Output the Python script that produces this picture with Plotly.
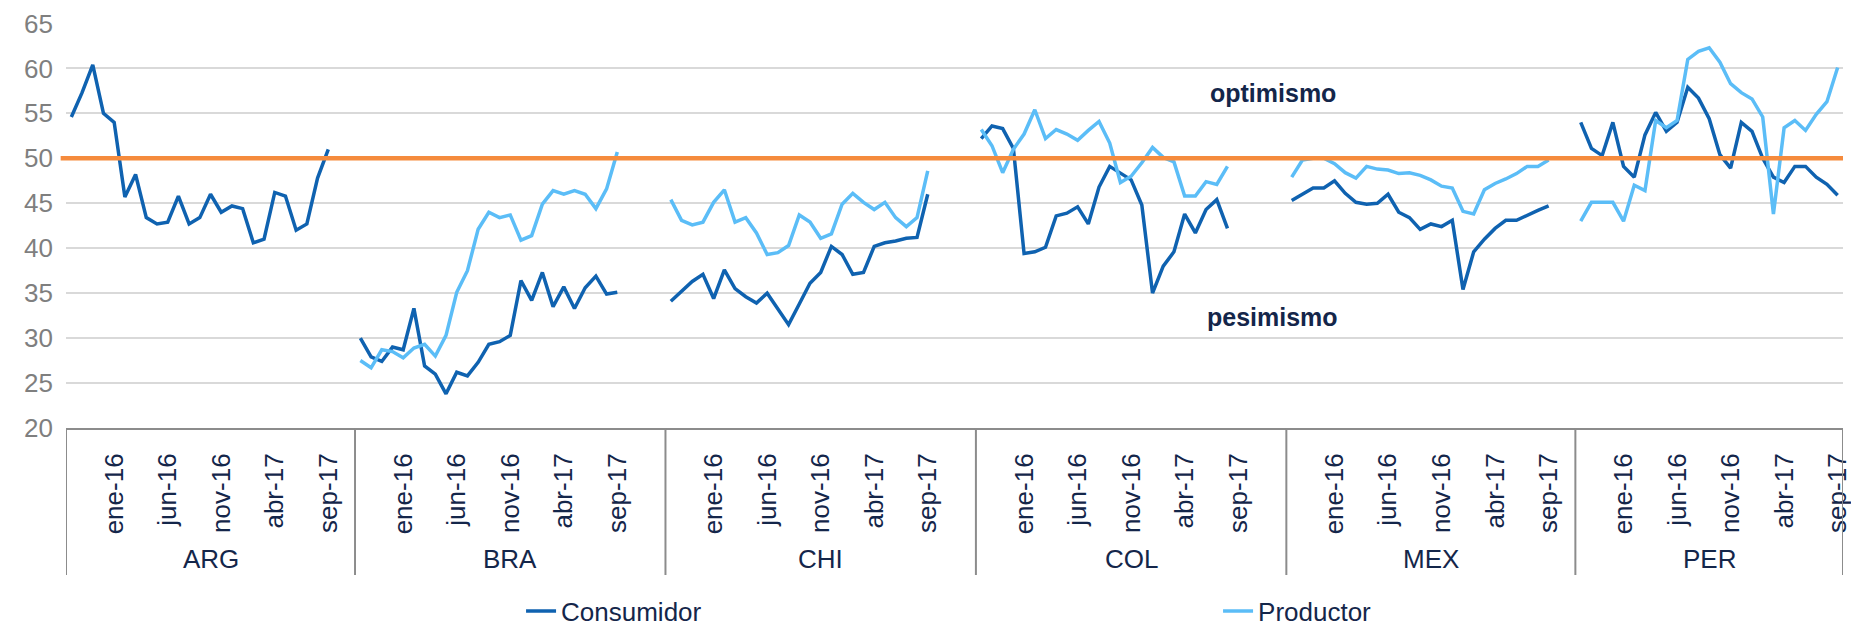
import plotly.graph_objects as go

# --- data ---
COUNTRIES = ["ARG", "BRA", "CHI", "COL", "MEX", "PER"]
# rows per country in the source table (months from sep-15, some left blank)
ROWS_PER_COUNTRY = [27, 29, 29, 29, 27, 25]
MONTHS = ["sep-15", "oct-15", "nov-15", "dic-15", "ene-16", "feb-16", "mar-16", "abr-16",
          "may-16", "jun-16", "jul-16", "ago-16", "sep-16", "oct-16", "nov-16", "dic-16",
          "ene-17", "feb-17", "mar-17", "abr-17", "may-17", "jun-17", "jul-17", "ago-17",
          "sep-17", "oct-17", "nov-17", "dic-17", "ene-18"]
LABEL_MONTHS = ["ene-16", "jun-16", "nov-16", "abr-17", "sep-17"]
THRESHOLD = 50

CONS_ARG = [54.6, 57.3, 60.4, 55.0, 54.0, 45.7, 48.2, 43.4, 42.7, 42.9, 45.8, 42.7, 43.4,
            46.0, 44.0, 44.7, 44.4, 40.6, 41.0, 46.2, 45.8, 42.0, 42.7, 47.8, 51.0]
CONS_BRA = [30.0, 27.9, 27.4, 29.0, 28.7, 33.3, 26.9, 26.0, 23.8, 26.2, 25.8, 27.3, 29.3,
            29.6, 30.3, 36.4, 34.2, 37.3, 33.5, 35.7, 33.3, 35.6, 36.9, 34.9, 35.1]
CONS_CHI = [34.1, 35.2, 36.3, 37.1, 34.4, 37.6, 35.5, 34.6, 33.9, 35.0, 33.3, 31.5, 33.8,
            36.1, 37.3, 40.2, 39.3, 37.1, 37.3, 40.2, 40.6, 40.8, 41.1, 41.2, 46.0]
CONS_COL = [52.2, 53.6, 53.3, 51.1, 39.4, 39.6, 40.1, 43.6, 43.9, 44.6, 42.7, 46.8, 49.1,
            48.4, 47.6, 44.8, 35.0, 38.0, 39.6, 43.8, 41.7, 44.3, 45.4, 42.2]
CONS_MEX = [45.3, 46.0, 46.7, 46.7, 47.5, 46.1, 45.1, 44.9, 45.0, 46.0, 44.0, 43.4, 42.1,
            42.7, 42.4, 43.1, 35.4, 39.6, 41.0, 42.2, 43.1, 43.1, 43.7, 44.2, 44.7]
CONS_PER = [54.0, 51.1, 50.3, 54.0, 49.1, 47.9, 52.6, 55.1, 53.0, 54.0, 57.9, 56.7, 54.4,
            50.4, 48.9, 54.0, 53.0, 50.0, 47.9, 47.3, 49.1, 49.1, 47.9, 47.1, 45.9]

PROD_ARG = []
PROD_BRA = [27.5, 26.7, 28.7, 28.5, 27.8, 28.9, 29.3, 28.0, 30.3, 35.1, 37.5, 42.1, 44.0,
            43.4, 43.7, 40.9, 41.4, 44.9, 46.4, 46.0, 46.4, 46.0, 44.4, 46.6, 50.7]
PROD_CHI = [45.4, 43.1, 42.6, 42.9, 45.1, 46.5, 42.9, 43.4, 41.7, 39.3, 39.5, 40.3, 43.7,
            42.9, 41.1, 41.6, 44.9, 46.1, 45.1, 44.3, 45.1, 43.4, 42.4, 43.4, 48.6]
PROD_COL = [53.2, 51.4, 48.4, 51.0, 52.7, 55.4, 52.2, 53.2, 52.7, 52.0, 53.1, 54.1, 51.7,
            47.3, 48.0, 49.5, 51.2, 50.1, 49.6, 45.8, 45.8, 47.4, 47.1, 49.1]
PROD_MEX = [47.9, 49.8, 50.0, 50.0, 49.4, 48.4, 47.8, 49.1, 48.8, 48.7, 48.3, 48.4, 48.1,
            47.6, 46.9, 46.7, 44.1, 43.8, 46.5, 47.2, 47.7, 48.3, 49.1, 49.1, 49.8]
PROD_PER = [43.0, 45.1, 45.1, 45.1, 43.0, 47.0, 46.4, 54.2, 53.4, 54.2, 61.0, 61.9, 62.3,
            60.7, 58.3, 57.3, 56.6, 54.6, 43.8, 53.4, 54.2, 53.1, 54.9, 56.3, 60.1]

CONSUMIDOR = [CONS_ARG, CONS_BRA, CONS_CHI, CONS_COL, CONS_MEX, CONS_PER]
PRODUCTOR = [PROD_ARG, PROD_BRA, PROD_CHI, PROD_COL, PROD_MEX, PROD_PER]

NAVY = "#14264a"
GREY_TXT = "#7f7f7f"
FONT = "Liberation Sans, Arial, sans-serif"

# build one long category axis (country + month), blanks as gaps
cats, cons_y, prod_y = [], [], []
for country, n, cv, pv in zip(COUNTRIES, ROWS_PER_COUNTRY, CONSUMIDOR, PRODUCTOR):
    for i in range(n):
        cats.append(f"{country} {MONTHS[i]}")
        cons_y.append(cv[i] if i < len(cv) else None)
        prod_y.append(pv[i] if i < len(pv) else None)

tickvals = [f"{c} {m}" for c in COUNTRIES for m in LABEL_MONTHS]
ticktext = LABEL_MONTHS * len(COUNTRIES)

fig = go.Figure()
fig.add_trace(go.Scatter(x=cats, y=cons_y, mode="lines", name="Consumidor",
                         line=dict(color="#0f62b0", width=3.5), connectgaps=False))
fig.add_trace(go.Scatter(x=cats, y=prod_y, mode="lines", name="Productor",
                         line=dict(color="#5bbdf7", width=3.5), connectgaps=False))

shapes = [dict(type="line", xref="paper", yref="y", x0=-0.003, x1=1, y0=THRESHOLD, y1=THRESHOLD,
               line=dict(color="#f58b3d", width=4.5), layer="above")]
annotations = []
start = 0
bounds = [-0.5]
for country, n in zip(COUNTRIES, ROWS_PER_COUNTRY):
    annotations.append(dict(x=start + (n - 1) / 2, y=0, xref="x", yref="paper",
                            xanchor="center", yanchor="middle",
                            text=country, showarrow=False, yshift=-131,
                            font=dict(size=26, color=NAVY, family=FONT)))
    start += n
    bounds.append(start - 0.5)
for b in bounds:
    shapes.append(dict(type="line", xref="x", yref="paper", x0=b, x1=b, y0=0, y1=-0.363,
                       line=dict(color="#8c8c8c", width=2)))

for label, yv in [("optimismo", 57.3), ("pesimismo", 32.4)]:
    annotations.append(dict(x=0.679, y=yv, xref="paper", yref="y", text=f"<b>{label}</b>",
                            xanchor="center", yanchor="middle", showarrow=False,
                            font=dict(size=25, color=NAVY, family=FONT)))

fig.update_layout(
    template="none",
    width=1851, height=630,
    margin=dict(l=66, r=8, t=23, b=202),
    paper_bgcolor="white", plot_bgcolor="white",
    font=dict(family=FONT, color=NAVY),
    shapes=shapes,
    annotations=annotations,
    showlegend=True,
    legend=dict(orientation="h", xref="container", yref="container",
                x=0.2815, xanchor="left", y=0.03, yanchor="middle",
                entrywidth=652, font=dict(size=26, color=NAVY, family=FONT),
                bgcolor="rgba(0,0,0,0)"),
    xaxis=dict(type="category", categoryorder="array", categoryarray=cats,
               range=[-0.5, len(cats) - 0.5], tickvals=tickvals, ticktext=ticktext,
               tickangle=-90, tickfont=dict(size=26, color=NAVY, family=FONT),
               showgrid=False, showline=True, linecolor="#8c8c8c", linewidth=2,
               ticks="", ticklabelstandoff=13, automargin=False, zeroline=False),
    yaxis=dict(range=[20, 65.05], dtick=5, tick0=20, showgrid=True, gridcolor="#d9d9d9",
               gridwidth=2, zeroline=False, showline=False, ticks="",
               tickfont=dict(size=26, color=GREY_TXT, family=FONT),
               ticklabelstandoff=12, automargin=False),
)

# page body has an 8px default margin; drop it so the figure fills the window
fig.write_html("out.html", config={"displayModeBar": False},
               post_script="document.body.style.margin = '0';")
